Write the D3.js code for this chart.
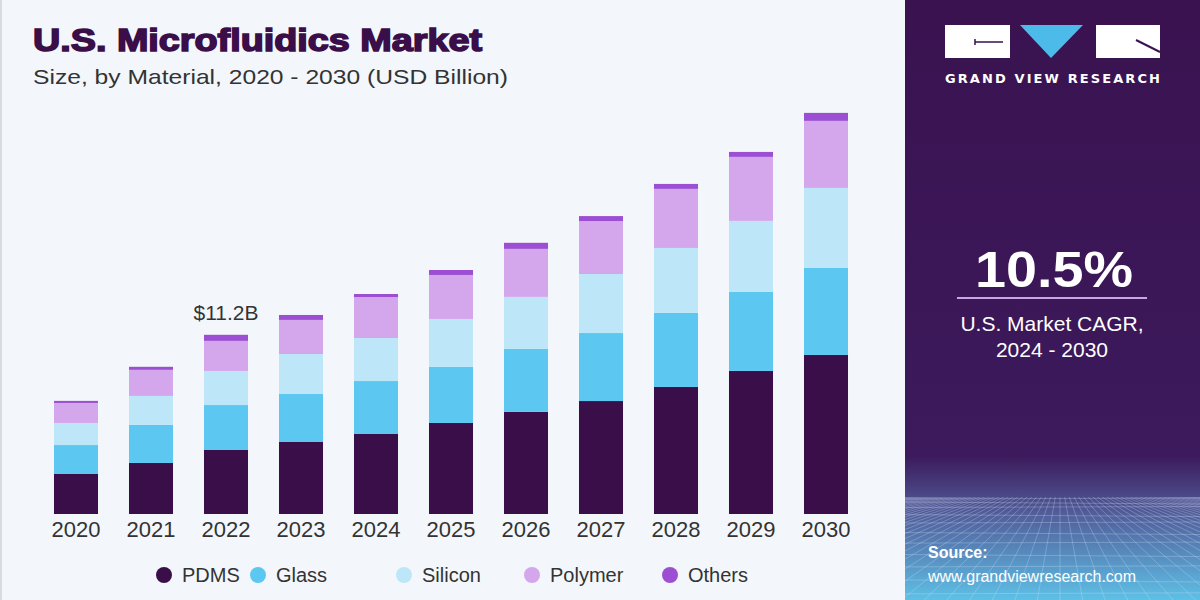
<!DOCTYPE html>
<html>
<head>
<meta charset="utf-8">
<script src="https://cdn.jsdelivr.net/npm/d3@7"></script>
<style>
  body { margin: 0; background: #f3f7fb; }
  svg { display: block; }
</style>
</head>
<body>
<svg id="chart"></svg>
<script>
  var years = ["2020", "2021", "2022", "2023", "2024", "2025", "2026", "2027", "2028", "2029", "2030"];
  var pdms = [2.50, 3.19, 4.00, 4.50, 5.00, 5.69, 6.38, 7.06, 7.94, 8.94, 9.94];
  var glass = [1.81, 2.38, 2.81, 3.00, 3.31, 3.50, 3.94, 4.25, 4.63, 4.94, 5.44];
  var silicon = [1.38, 1.81, 2.13, 2.50, 2.69, 3.00, 3.25, 3.69, 4.06, 4.44, 5.00];
  var polymer = [1.25, 1.63, 1.88, 2.13, 2.56, 2.75, 3.00, 3.31, 3.69, 4.00, 4.19];
  var others = [0.13, 0.19, 0.38, 0.31, 0.19, 0.31, 0.38, 0.31, 0.31, 0.31, 0.50];
  var seriesNames = ["PDMS", "Glass", "Silicon", "Polymer", "Others"];
  var colors = ["#3a0e48", "#5cc8f2", "#bde7f8", "#d4a6eb", "#9c4fd2"];
  var labelYear = "2022", labelText = "$11.2B";

  var W = 1200, H = 600;
  var font = "Liberation Sans, Arial, sans-serif";
  var svg = d3.select("#chart").attr("width", W).attr("height", H);

  // build rows for the stack
  var rows = years.map(function(y, i) {
    return { year: y, PDMS: pdms[i], Glass: glass[i], Silicon: silicon[i], Polymer: polymer[i], Others: others[i] };
  });
  var stacked = d3.stack().keys(seriesNames)(rows);

  svg.append("rect").attr("width", W).attr("height", H).attr("fill", "#f3f7fb");
  svg.append("rect").attr("x", 0).attr("y", 0).attr("width", 2).attr("height", H).attr("fill", "#d8dbe0");

  var x = d3.scaleBand().domain(years).range([38.5, 863.5]).paddingInner(0.413).paddingOuter(0.2065);
  var y = d3.scaleLinear().domain([0, 25]).range([514, 114]);
  var color = d3.scaleOrdinal().domain(seriesNames).range(colors);

  // title
  svg.append("text").attr("x", 33).attr("y", 51)
     .attr("font-family", font).attr("font-weight", "bold")
     .attr("font-size", 32).attr("fill", "#3a0e48")
     .attr("stroke", "#3a0e48").attr("stroke-width", 1.6)
     .attr("textLength", 449).attr("lengthAdjust", "spacingAndGlyphs")
     .text("U.S. Microfluidics Market");
  svg.append("text").attr("x", 33).attr("y", 84)
     .attr("font-family", font)
     .attr("font-size", 21).attr("fill", "#333")
     .attr("textLength", 475).attr("lengthAdjust", "spacingAndGlyphs")
     .text("Size, by Material, 2020 - 2030 (USD Billion)");

  // bars
  var g = svg.append("g");
  g.selectAll("g.layer")
    .data(stacked)
    .enter().append("g")
    .attr("class", "layer")
    .attr("fill", function(d) { return color(d.key); })
    .selectAll("rect")
    .data(function(d) { return d; })
    .enter().append("rect")
    .attr("x", function(d) { return x(d.data.year); })
    .attr("y", function(d) { return y(d[1]); })
    .attr("width", x.bandwidth())
    .attr("height", function(d) { return y(d[0]) - y(d[1]); });

  // value label
  var li = years.indexOf(labelYear);
  var barTop = stacked[stacked.length - 1][li][1];
  svg.append("text")
     .attr("x", x(labelYear) + x.bandwidth() / 2)
     .attr("y", y(barTop) - 15)
     .attr("text-anchor", "middle")
     .attr("font-family", font)
     .attr("font-size", 21).attr("fill", "#333")
     .text(labelText);

  // x axis
  var xAxis = svg.append("g")
     .attr("transform", "translate(0," + 514 + ")")
     .call(d3.axisBottom(x).tickSize(0).tickPadding(7));
  xAxis.select(".domain").remove();
  xAxis.selectAll("text")
     .attr("font-family", font)
     .attr("font-size", 22).attr("fill", "#333");

  // legend
  var legendX = [164, 258, 404, 532, 670];
  var legend = svg.append("g").selectAll("g")
     .data(seriesNames).enter().append("g")
     .attr("transform", function(d, i) { return "translate(" + legendX[i] + ",575)"; });
  legend.append("circle").attr("r", 8).attr("fill", function(d) { return color(d); });
  legend.append("text").attr("x", 18).attr("y", 7)
     .attr("font-family", font)
     .attr("font-size", 20).attr("fill", "#333")
     .text(function(d) { return d; });

  // right panel
  var defs = svg.append("defs");
  var grad = defs.append("linearGradient").attr("id", "panelGrad")
     .attr("x1", 0).attr("y1", 0).attr("x2", 0).attr("y2", 1);
  grad.append("stop").attr("offset", "0").attr("stop-color", "#3a1250");
  grad.append("stop").attr("offset", "0.76").attr("stop-color", "#3c1a5c");
  grad.append("stop").attr("offset", "0.86").attr("stop-color", "#52609c");
  grad.append("stop").attr("offset", "1").attr("stop-color", "#5ec0e6");
  defs.append("clipPath").attr("id", "panelClip")
     .append("rect").attr("x", 905).attr("y", 497).attr("width", 295).attr("height", 103);

  var panel = svg.append("g");
  panel.append("rect").attr("x", 905).attr("y", 0).attr("width", 295).attr("height", H)
     .attr("fill", "url(#panelGrad)");

  // perspective grid
  var grid = panel.append("g").attr("clip-path", "url(#panelClip)")
     .attr("stroke", "#d8e6ff").attr("stroke-opacity", 0.28).attr("stroke-width", 1).attr("fill", "none");
  var vx = 1060, vy = 470;
  d3.range(-40, 41).forEach(function(k) {
    grid.append("line").attr("x1", vx).attr("y1", vy).attr("x2", vx + k * 40).attr("y2", 700);
  });
  d3.range(0, 14).forEach(function(k) {
    var yy = 499 + Math.pow(k, 1.5) * 3;
    grid.append("line").attr("x1", 905).attr("x2", 1200).attr("y1", yy).attr("y2", yy + (k % 2 ? 2 : -1));
  });

  // logo
  panel.append("rect").attr("x", 945).attr("y", 25).attr("width", 65).attr("height", 33).attr("fill", "#fff");
  panel.append("path").attr("d", "M975,42 L1003,42 M975,39 L975,45").attr("stroke", "#3a1250").attr("stroke-width", 1.5);
  panel.append("path").attr("d", "M1020,25 L1083,25 L1051,58 Z").attr("fill", "#4dbbea");
  panel.append("rect").attr("x", 1096).attr("y", 25).attr("width", 64).attr("height", 33).attr("fill", "#fff");
  panel.append("path").attr("d", "M1136,40 L1160,52").attr("stroke", "#3a1250").attr("stroke-width", 2);
  panel.append("text").attr("x", 945).attr("y", 83)
     .attr("font-family", "DejaVu Sans, sans-serif").attr("font-weight", "bold")
     .attr("font-size", 13).attr("fill", "#fff")
     .attr("textLength", 215).attr("lengthAdjust", "spacing")
     .text("GRAND VIEW RESEARCH");

  // CAGR
  panel.append("text").attr("x", 975).attr("y", 287)
     .attr("font-family", font).attr("font-weight", "bold")
     .attr("font-size", 50).attr("fill", "#fff")
     .attr("textLength", 158).attr("lengthAdjust", "spacingAndGlyphs")
     .text("10.5%");
  panel.append("line").attr("x1", 957).attr("x2", 1147).attr("y1", 298).attr("y2", 298)
     .attr("stroke", "#c9a6e2").attr("stroke-width", 2);
  panel.append("text").attr("x", 1052).attr("y", 331).attr("text-anchor", "middle")
     .attr("font-family", font)
     .attr("font-size", 21).attr("fill", "#fff").text("U.S. Market CAGR,");
  panel.append("text").attr("x", 1052).attr("y", 357).attr("text-anchor", "middle")
     .attr("font-family", font)
     .attr("font-size", 21).attr("fill", "#fff").text("2024 - 2030");

  // source
  panel.append("text").attr("x", 928).attr("y", 558)
     .attr("font-family", font).attr("font-weight", "bold")
     .attr("font-size", 16).attr("fill", "#fff").text("Source:");
  panel.append("text").attr("x", 928).attr("y", 582)
     .attr("font-family", font)
     .attr("font-size", 16).attr("fill", "#fff").text("www.grandviewresearch.com");
</script>
</body>
</html>
